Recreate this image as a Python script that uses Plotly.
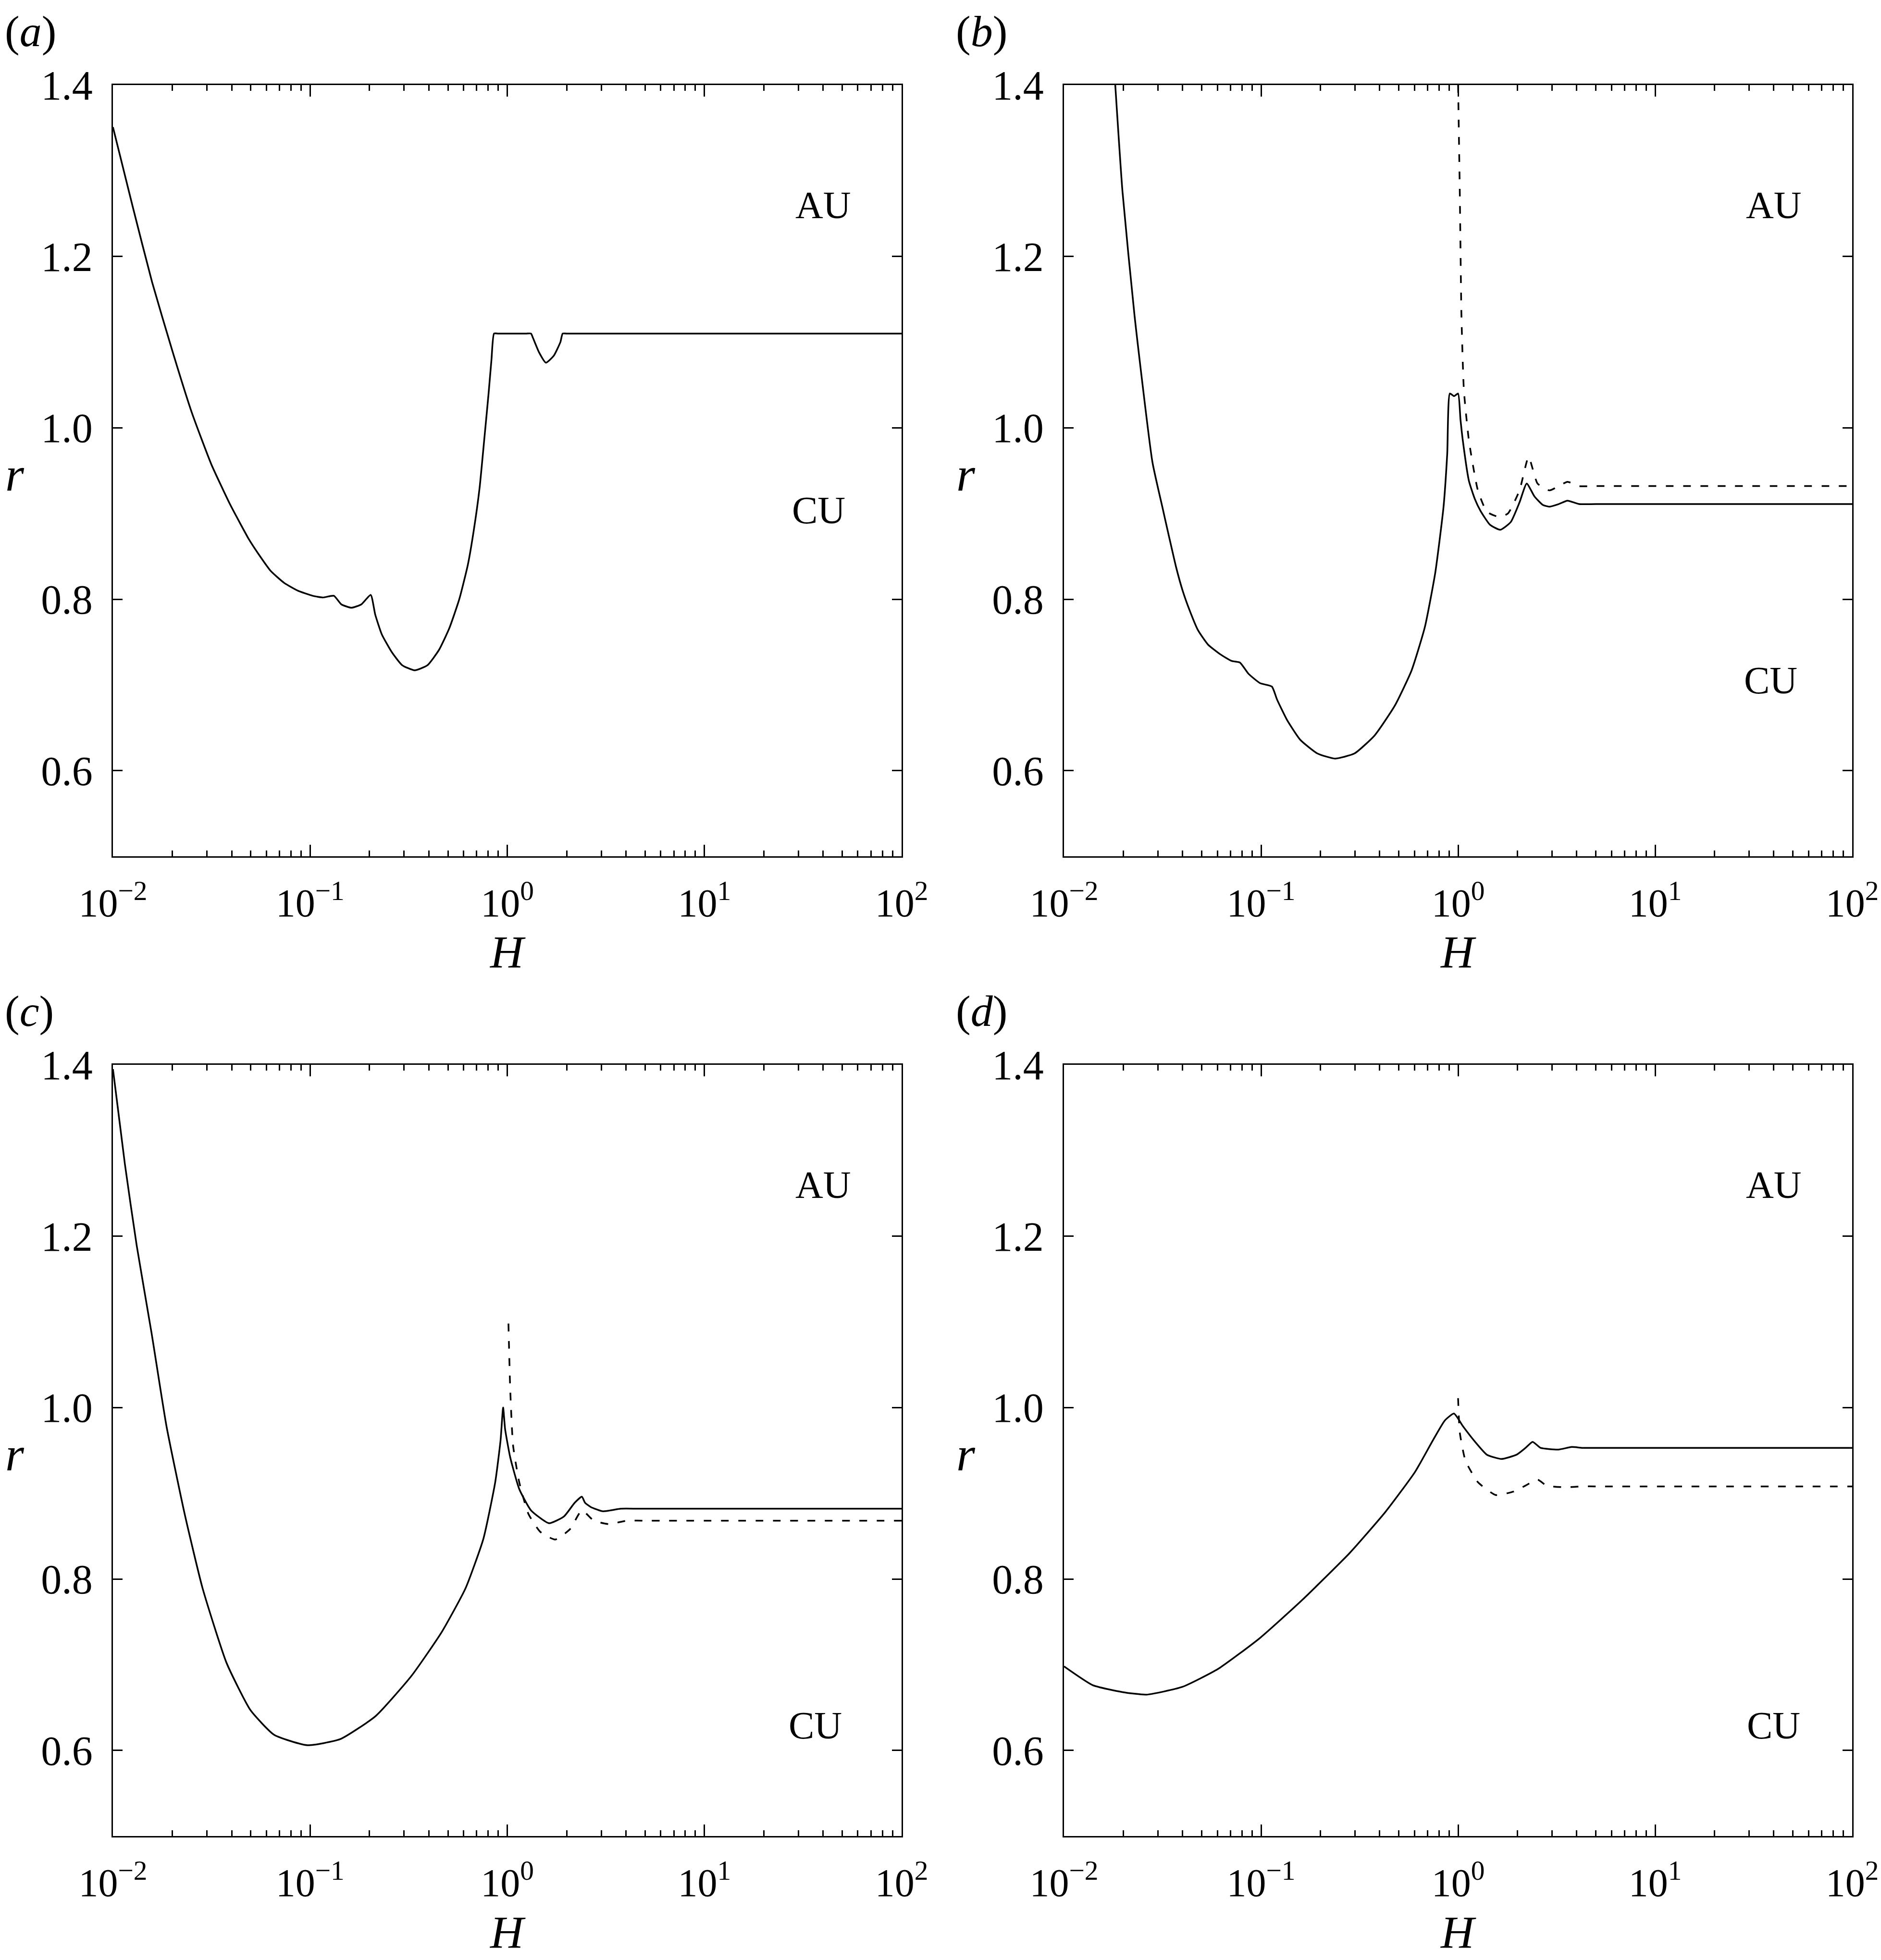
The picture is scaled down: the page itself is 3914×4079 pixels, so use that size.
import math

import plotly.graph_objects as go
from plotly.subplots import make_subplots

# ---- data (H on log axis, r linear) ----
H_A_SOLID = [0.01, 0.0126, 0.0158, 0.02, 0.0251, 0.0316, 0.0394, 0.0443, 0.0489, 0.055,
             0.0631, 0.0739, 0.0865, 0.103, 0.116, 0.132, 0.144, 0.162, 0.182, 0.203,
             0.214, 0.231, 0.26, 0.293, 0.339, 0.394, 0.451, 0.508, 0.571, 0.631,
             0.676, 0.724, 0.767, 0.804, 0.832, 0.857, 0.9, 1.25, 1.32, 1.35,
             1.45, 1.57, 1.72, 1.86, 1.91, 2.0, 100]
R_A_SOLID = [1.351, 1.258, 1.17, 1.09, 1.018, 0.957, 0.91, 0.888, 0.87, 0.852,
             0.833, 0.819, 0.81, 0.804, 0.802, 0.804, 0.794, 0.79, 0.794, 0.805,
             0.782, 0.759, 0.738, 0.723, 0.717, 0.723, 0.741, 0.766, 0.80, 0.84,
             0.88, 0.93, 0.99, 1.04, 1.08, 1.11, 1.11, 1.11, 1.11, 1.105,
             1.088, 1.076, 1.084, 1.1, 1.11, 1.11, 1.11]

H_B_SOLID = [0.0182, 0.0198, 0.0228, 0.0281, 0.0316, 0.0342, 0.037, 0.04, 0.0434, 0.0478,
             0.0538, 0.0618, 0.0708, 0.0782, 0.0863, 0.0989, 0.1135, 0.1205, 0.1355, 0.158,
             0.193, 0.237, 0.298, 0.377, 0.478, 0.581, 0.679, 0.766, 0.843, 0.881,
             0.908, 0.955, 1.0, 1.028, 1.057, 1.135, 1.216, 1.30, 1.45, 1.637,
             1.85, 2.05, 2.23, 2.44, 2.69, 2.91, 3.24, 3.59, 4.12, 5.0, 100]
R_B_SOLID = [1.4, 1.276, 1.131, 0.96, 0.907, 0.872, 0.838, 0.81, 0.787, 0.764,
             0.747, 0.736, 0.728, 0.726, 0.713, 0.702, 0.698, 0.683, 0.659, 0.636,
             0.62, 0.614, 0.62, 0.641, 0.676, 0.717, 0.768, 0.831, 0.907, 0.97,
             1.04, 1.037, 1.04, 1.01, 0.985, 0.938, 0.917, 0.903, 0.887, 0.881,
             0.89, 0.913, 0.935, 0.92, 0.91, 0.908, 0.911, 0.915, 0.911, 0.911, 0.911]
H_B_DASH = [1.0, 1.02, 1.04, 1.07, 1.135, 1.26, 1.40, 1.61, 1.79, 2.05, 2.28, 2.53, 2.91, 3.3, 3.59, 4.12, 5.0, 100]
R_B_DASH = [1.4, 1.276, 1.131, 1.044, 0.985, 0.927, 0.902, 0.896, 0.9, 0.927, 0.966, 0.935, 0.927, 0.933, 0.937, 0.932, 0.932, 0.932]

H_C_SOLID = [0.01, 0.0115, 0.0132, 0.0157, 0.0187, 0.0231, 0.0285, 0.0377, 0.0498, 0.0658,
             0.0966, 0.142, 0.215, 0.327, 0.465, 0.614, 0.757, 0.869, 0.925, 0.953,
             0.975, 1.035, 1.15, 1.32, 1.63, 1.94, 2.20, 2.39, 2.48, 2.65,
             3.05, 3.77, 4.65, 100]
R_C_SOLID = [1.395, 1.284, 1.189, 1.087, 0.978, 0.876, 0.789, 0.702, 0.647, 0.618,
             0.606, 0.613, 0.64, 0.687, 0.738, 0.789, 0.847, 0.913, 0.962, 1.0,
             0.975, 0.942, 0.905, 0.88, 0.865, 0.873, 0.889, 0.896, 0.889, 0.884,
             0.879, 0.882, 0.882, 0.882]
H_C_DASH = [1.014, 1.035, 1.07, 1.15, 1.28, 1.47, 1.75, 2.08, 2.39, 2.75, 3.27, 4.04, 5.0, 100]
R_C_DASH = [1.098, 1.022, 0.956, 0.913, 0.876, 0.855, 0.846, 0.858, 0.88, 0.868, 0.864, 0.868, 0.868, 0.868]

H_D_SOLID = [0.01, 0.014, 0.0198, 0.0262, 0.0398, 0.0605, 0.0986, 0.161, 0.281, 0.427,
             0.605, 0.746, 0.857, 0.953, 1.06, 1.22, 1.40, 1.66, 1.98, 2.20,
             2.39, 2.62, 3.23, 3.77, 4.27, 5.0, 100]
R_D_SOLID = [0.698, 0.676, 0.668, 0.665, 0.674, 0.695, 0.731, 0.775, 0.83, 0.878,
             0.925, 0.962, 0.985, 0.993, 0.978, 0.96, 0.945, 0.94, 0.945, 0.953,
             0.96, 0.953, 0.951, 0.954, 0.953, 0.953, 0.953]
H_D_DASH = [1.0, 1.02, 1.09, 1.26, 1.55, 1.91, 2.20, 2.53, 2.81, 3.46, 4.27, 5.0, 100]
R_D_DASH = [1.011, 0.971, 0.938, 0.913, 0.898, 0.902, 0.909, 0.916, 0.909, 0.907, 0.908, 0.908, 0.908]

PANELS = ["a", "b", "c", "d"]
SOLID = {"a": (H_A_SOLID, R_A_SOLID), "b": (H_B_SOLID, R_B_SOLID),
         "c": (H_C_SOLID, R_C_SOLID), "d": (H_D_SOLID, R_D_SOLID)}
DASHED = {"b": (H_B_DASH, R_B_DASH), "c": (H_C_DASH, R_C_DASH), "d": (H_D_DASH, R_D_DASH)}

# region labels: (H, r) per panel
AU_POS = {"a": (40, 1.26), "b": (40, 1.26), "c": (40, 1.26), "d": (40, 1.26)}
CU_POS = {"a": (38, 0.904), "b": (38.5, 0.705), "c": (36.5, 0.629), "d": (40, 0.629)}

X_TICKS = [0.01, 0.1, 1, 10, 100]
X_TICKTEXT = ["10<sup>\u22122</sup>", "10<sup>\u22121</sup>", "10<sup>0</sup>", "10<sup>1</sup>", "10<sup>2</sup>"]
X_MINOR = [m * 10 ** e for e in (-2, -1, 0, 1) for m in range(2, 10)]
Y_TICKS = [0.6, 0.8, 1.0, 1.2, 1.4]
Y_TICKTEXT = ["0.6", "0.8", "1.0", "1.2", "1.4"]

W, HGT = 3914, 4079
FONT = "Liberation Serif, Times New Roman, Times, serif"

# pixel boxes of each panel (left, right, top, bottom)
BOX = {"a": (227, 1868, 169, 1774), "b": (2206, 3846, 169, 1774),
       "c": (227, 1868, 2208, 3813), "d": (2206, 3846, 2208, 3813)}

fig = make_subplots(rows=2, cols=2)

for i, p in enumerate(PANELS):
    row, col = i // 2 + 1, i % 2 + 1
    hx, ry = SOLID[p]
    fig.add_trace(go.Scatter(x=hx, y=ry, mode="lines",
                             line={"color": "black", "width": 3.5, "shape": "spline", "smoothing": 0.5},
                             showlegend=False, hoverinfo="skip"), row=row, col=col)
    if p in DASHED:
        hx, ry = DASHED[p]
        fig.add_trace(go.Scatter(x=hx, y=ry, mode="lines",
                                 line={"color": "black", "width": 3.5, "dash": "16px,20px",
                                       "shape": "spline", "smoothing": 0.5},
                                 showlegend=False, hoverinfo="skip"), row=row, col=col)

    left, right, top, bottom = BOX[p]
    xdom = [left / W, right / W]
    ydom = [1 - bottom / HGT, 1 - top / HGT]
    fig.update_xaxes(
        type="log", range=[-2, 2], domain=xdom, automargin=False,
        showline=True, linecolor="black", linewidth=3, mirror="ticks",
        ticks="inside", ticklen=24, tickwidth=3, tickcolor="black",
        tickvals=X_TICKS, ticktext=X_TICKTEXT, ticklabelstandoff=24,
        minor={"tickvals": X_MINOR, "ticks": "inside", "ticklen": 12,
               "tickwidth": 3, "tickcolor": "black", "showgrid": False},
        showgrid=False, zeroline=False,
        tickfont={"family": FONT, "size": 82, "color": "black"},
        row=row, col=col,
    )
    fig.update_yaxes(
        range=[0.5, 1.4], domain=ydom, automargin=False,
        showline=True, linecolor="black", linewidth=3, mirror="ticks",
        ticks="inside", ticklen=20, tickwidth=3, tickcolor="black",
        tickvals=Y_TICKS, ticktext=Y_TICKTEXT, ticklabelstandoff=22,
        showgrid=False, zeroline=False,
        tickfont={"family": FONT, "size": 86, "color": "black"},
        row=row, col=col,
    )

    xref = "x" if i == 0 else f"x{i + 1}"
    yref = "y" if i == 0 else f"y{i + 1}"
    for txt, pos in (("AU", AU_POS[p]), ("CU", CU_POS[p])):
        # annotations on a log axis take log10 of the data value
        fig.add_annotation(x=math.log10(pos[0]), y=pos[1], xref=xref, yref=yref, text=txt,
                           showarrow=False, xanchor="center", yanchor="middle",
                           font={"family": FONT, "size": 80, "color": "black"})

    # panel letter, axis titles
    fig.add_annotation(x=(left - 227) / W, y=1 - (top - 112) / HGT, xref="paper", yref="paper",
                       text=f"(<i>{p}</i>)", showarrow=False, xanchor="left", yanchor="middle",
                       font={"family": FONT, "size": 92, "color": "black"})
    fig.add_annotation(x=(left - 204) / W, y=1 - ((top + bottom) / 2 + 8) / HGT,
                       xref="paper", yref="paper", text="<i>r</i>", showarrow=False,
                       xanchor="center", yanchor="middle",
                       font={"family": FONT, "size": 100, "color": "black"})
    fig.add_annotation(x=(left + right) / 2 / W, y=1 - (bottom + 200) / HGT,
                       xref="paper", yref="paper", text="<i>H</i>", showarrow=False,
                       xanchor="center", yanchor="middle",
                       font={"family": FONT, "size": 96, "color": "black"})

fig.update_layout(
    width=W, height=HGT,
    margin={"l": 0, "r": 0, "t": 0, "b": 0},
    paper_bgcolor="white", plot_bgcolor="white",
    showlegend=False,
)

fig.write_html("out.html")
